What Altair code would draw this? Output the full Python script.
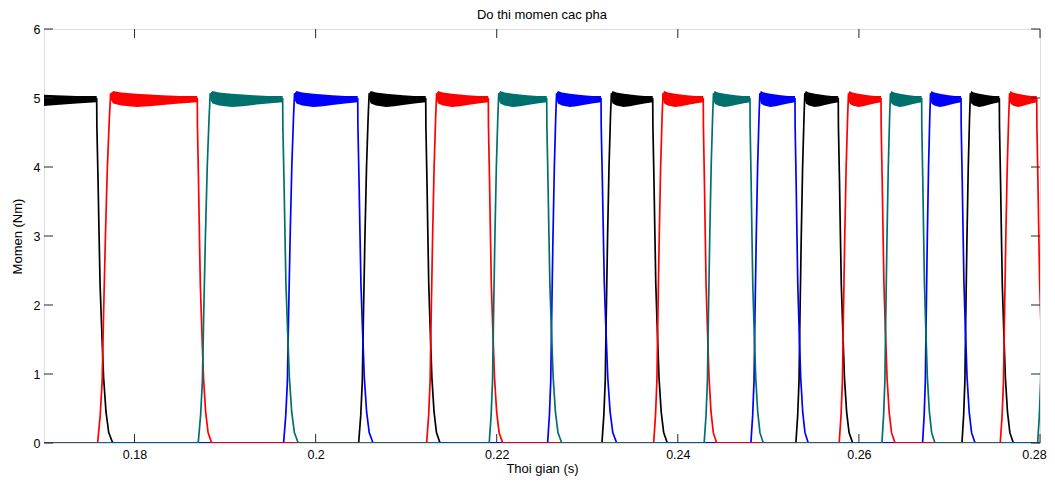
import altair as alt
import pandas as pd

# ---------------- data ----------------
title_text = "Do thi momen cac pha"
x_title = "Thoi gian (s)"
y_title = "Momen (Nm)"
x_domain = [0.17, 0.28]
y_domain = [0, 6]
x_ticks = [0.18, 0.20, 0.22, 0.24, 0.26, 0.28]
y_ticks = [0, 1, 2, 3, 4, 5, 6]

phase_names = ["Pha 1", "Pha 2", "Pha 3", "Pha 4"]
phase_colors = ["#000000", "#ff0000", "#00706c", "#0000ff"]
draw_order = ["Pha 1", "Pha 4", "Pha 2", "Pha 3"]

# commutation instants (s): phase k switches off / phase k+1 switches on
switch_times = [0.1631, 0.17582, 0.18693, 0.19636, 0.20465, 0.21216, 0.21907,
                0.22552, 0.23152, 0.23723, 0.24281, 0.24797, 0.25294, 0.25772,
                0.26244, 0.26693, 0.27128, 0.27551, 0.27964, 0.2834]
# rise / fall durations of each pulse (ms)
rise_ms = [1.50, 1.44, 1.33, 1.21, 1.16, 1.10, 1.05, 0.99, 1.04, 1.03,
           1.03, 0.99, 0.99, 1.03, 0.94, 0.88, 0.93, 1.03, 0.95]
fall_ms = [1.77, 1.59, 1.72, 1.69, 1.58, 1.59, 1.66, 1.73, 1.61, 1.48,
           1.47, 1.47, 1.59, 1.55, 1.47, 1.55, 1.55, 1.55, 1.55]
rise_delay_ms = 0.1

# edge shapes (fraction of the edge duration, torque in Nm)
rise_frac = [0, 0.2, 0.35, 0.45, 0.6, 0.75, 0.9, 1.0]
rise_val = [0, 0.4, 0.9, 1.8, 3.0, 4.0, 4.7, 5.07]
fall_frac = [0, 0.01, 0.085, 0.15, 0.21, 0.32, 0.43, 0.58, 0.75, 1.0]
fall_val = [5.0, 4.6, 3.8, 3.0, 2.3, 1.6, 0.95, 0.45, 0.15, 0]
# ripple band on the flat top (fraction of the flat top, upper / lower envelope)
ripple_frac = [0, 0.03, 0.12, 0.3, 0.45, 0.6, 0.8, 1.0]
ripple_hi = [5.07, 5.10, 5.08, 5.06, 5.05, 5.04, 5.03, 5.03]
ripple_lo = [4.98, 4.92, 4.89, 4.87, 4.88, 4.90, 4.92, 4.94]

# ---------------- tables ----------------
line_rows = []
band_rows = []
for p in phase_names:
    idx = 0
    line_rows.append({"phase": p, "i": idx, "t": 0.16, "v": 0.0}); idx += 1
    for k in range(len(switch_times) - 1):
        if phase_names[k % 4] != p:
            continue
        on, off = switch_times[k], switch_times[k + 1]
        r0 = on + rise_delay_ms / 1000.0
        rd = rise_ms[k] / 1000.0
        for f, v in zip(rise_frac, rise_val):
            line_rows.append({"phase": p, "i": idx, "t": r0 + f * rd, "v": v}); idx += 1
        r1 = r0 + rd
        for f, h, l in zip(ripple_frac, ripple_hi, ripple_lo):
            t = r1 + f * (off - r1)
            line_rows.append({"phase": p, "i": idx, "t": t, "v": (h + l) / 2}); idx += 1
            band_rows.append({"phase": p, "pulse": k, "t": t, "hi": h, "lo": l})
        fd = fall_ms[k] / 1000.0
        for f, v in zip(fall_frac, fall_val):
            line_rows.append({"phase": p, "i": idx, "t": off + f * fd, "v": v}); idx += 1
    line_rows.append({"phase": p, "i": idx, "t": 0.29, "v": 0.0})

line_df = pd.DataFrame(line_rows)
band_df = pd.DataFrame(band_rows)

FONT = "Liberation Sans"
W, H = 996, 414

xscale = alt.Scale(domain=x_domain, nice=False, zero=False)
yscale = alt.Scale(domain=y_domain, nice=False, zero=False)
cscale = alt.Scale(domain=phase_names, range=phase_colors)

x_axis = alt.Axis(values=x_ticks, format=".2~f", title=x_title, ticks=False,
                  domain=False, grid=False, labelPadding=5, titlePadding=2,
                  labelFlush=False, titleFontWeight="normal", titleFontSize=13,
                  labelFontSize=12.5, titleFont=FONT, labelFont=FONT,
                  labelColor="#000000", titleColor="#000000",
                  labelOffset=alt.condition("datum.value > 0.275", alt.value(-6), alt.value(0)))
y_axis = alt.Axis(values=y_ticks, format="d", title=y_title, ticks=False,
                  domain=False, grid=False, labelPadding=4, titlePadding=9,
                  labelFlush=False, titleFontWeight="normal", titleFontSize=13,
                  labelFontSize=12.5, titleFont=FONT, labelFont=FONT,
                  labelColor="#000000", titleColor="#000000")

layers = []
for p in draw_order:
    band = alt.Chart(band_df).transform_filter(alt.datum.phase == p).mark_area(
        clip=True, interpolate="linear", opacity=1
    ).encode(
        x=alt.X("t:Q", scale=xscale, axis=x_axis),
        y=alt.Y("hi:Q", scale=yscale, axis=y_axis),
        y2="lo:Q",
        detail="pulse:N",
        color=alt.Color("phase:N", scale=cscale, legend=None),
    )
    line = alt.Chart(line_df).transform_filter(alt.datum.phase == p).mark_line(
        clip=True, strokeWidth=1.7, interpolate="linear"
    ).encode(
        x=alt.X("t:Q", scale=xscale, axis=x_axis),
        y=alt.Y("v:Q", scale=yscale, axis=y_axis),
        order="i:Q",
        color=alt.Color("phase:N", scale=cscale, legend=None),
    )
    layers += [band, line]

xt_df = pd.DataFrame({"xt": x_ticks})
yt_df = pd.DataFrame({"yt": y_ticks})
tick_color = "#262626"
ticks_top = alt.Chart(xt_df).mark_rule(color=tick_color, strokeWidth=1).encode(
    x=alt.X("xt:Q", scale=xscale, axis=x_axis), y=alt.value(0), y2=alt.value(9))
ticks_bot = alt.Chart(xt_df).mark_rule(color=tick_color, strokeWidth=1).encode(
    x=alt.X("xt:Q", scale=xscale, axis=x_axis), y=alt.value(H), y2=alt.value(H - 9))
ticks_left = alt.Chart(yt_df).mark_rule(color=tick_color, strokeWidth=1).encode(
    y=alt.Y("yt:Q", scale=yscale, axis=y_axis), x=alt.value(0), x2=alt.value(9))
ticks_right = alt.Chart(yt_df).mark_rule(color=tick_color, strokeWidth=1).encode(
    y=alt.Y("yt:Q", scale=yscale, axis=y_axis), x=alt.value(W), x2=alt.value(W - 9))

chart = alt.layer(*layers, ticks_top, ticks_bot, ticks_left, ticks_right).properties(
    width=W,
    height=H,
    title=alt.TitleParams(title_text, fontSize=13, fontWeight="normal", font=FONT,
                          color="#000000", anchor="middle", offset=1),
    padding={"left": 36, "top": 21, "right": 7, "bottom": 35},
    autosize=alt.AutoSizeParams(type="none"),
).configure_view(
    stroke="#000000", strokeWidth=1
).configure_axis(
    labelFont=FONT, titleFont=FONT, labelFontSize=12.5, titleFontSize=13,
    titleFontWeight="normal", labelColor="#000000", titleColor="#000000"
).configure(background="#ffffff")

chart.save("out.html", embed_options={"renderer": "svg", "actions": False})
